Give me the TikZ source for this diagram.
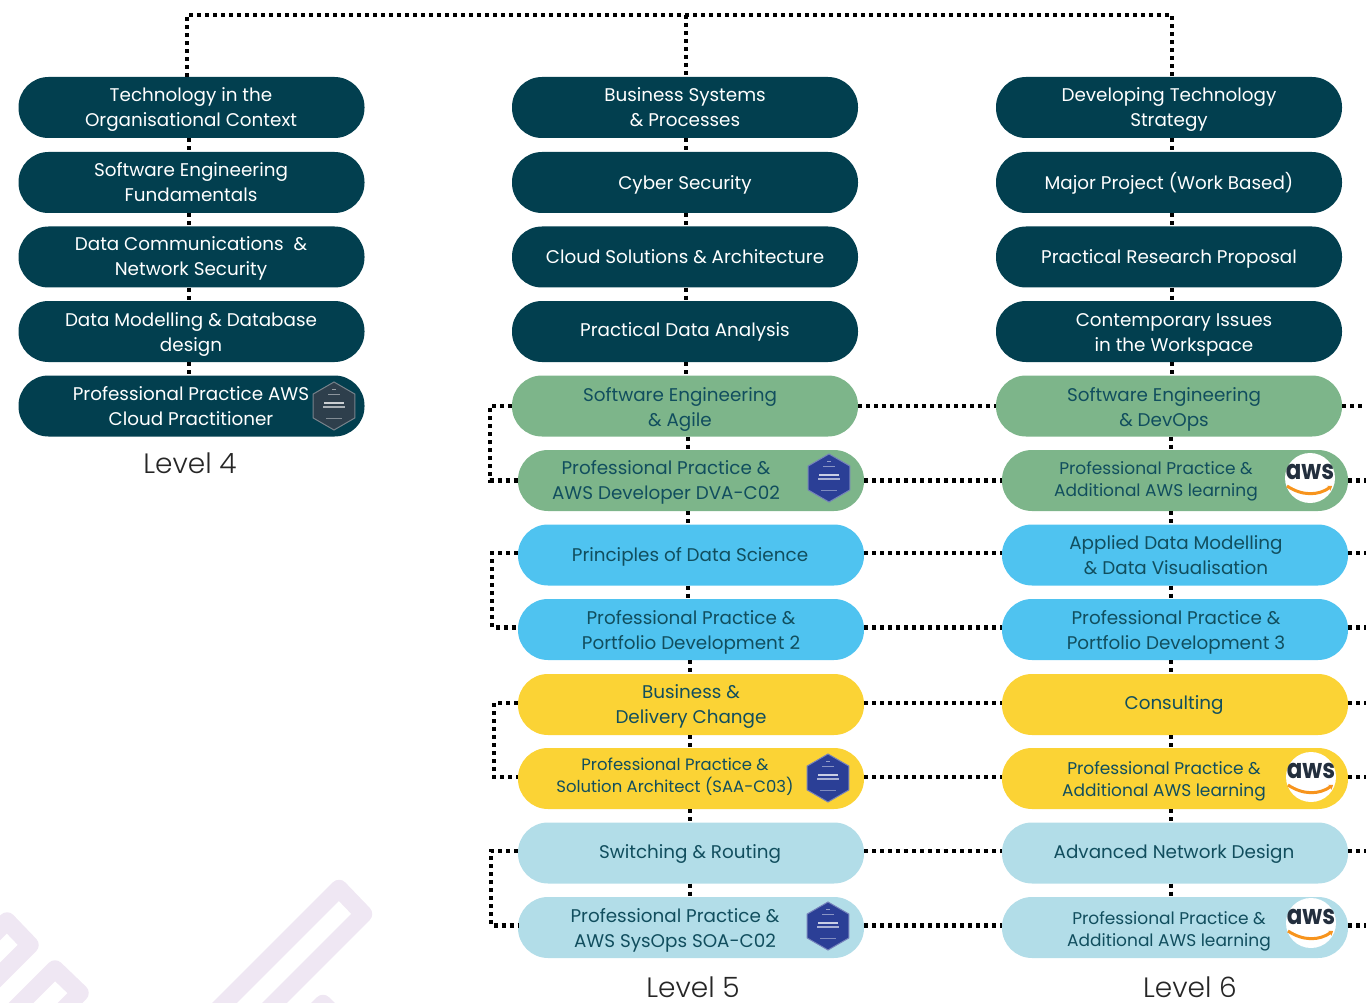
\documentclass[tikz,border=0pt]{standalone}
\usepackage{fontspec}
\setmainfont{Poppins}
\newfontfamily\lightf{Poppins Light}
\usetikzlibrary{shapes.geometric,arrows.meta}
\definecolor{deep}{HTML}{023F4F}
\definecolor{sage}{HTML}{7DB58A}
\definecolor{sky}{HTML}{4FC3F0}
\definecolor{sun}{HTML}{FBD335}
\definecolor{pale}{HTML}{B2DDE8}
\definecolor{ink}{HTML}{114E5E}
\definecolor{wm}{HTML}{EFE7F3}
\definecolor{hexblue}{HTML}{2B3F96}
\definecolor{hexgrey}{HTML}{2E3F4C}
\definecolor{awsink}{HTML}{232F3E}
\definecolor{awsor}{HTML}{F7941D}
\tikzset{
  pill/.style={rectangle,rounded corners=30pt,minimum height=61pt,minimum width=346pt,inner sep=0pt,draw=none},
  dots/.style={draw=black,line width=4.4pt,dash pattern=on 4.2pt off 3.8pt},
  lab/.style={inner sep=0pt,align=center,text=ink},
  labw/.style={lab,text=white},
  levellab/.style={inner sep=0pt,text=black!85,font=\lightf\fontsize{28}{32}\selectfont},
  badge/.style={regular polygon,regular polygon sides=6,shape border rotate=30,minimum size=48pt,inner sep=0pt},
  awscirc/.style={circle,fill=white,minimum size=50pt,inner sep=0pt},
  awstext/.style={inner sep=0pt,text=awsink,font=\fontsize{27}{27}\selectfont\bfseries},
  wmark/.style={draw=wm,line width=17.5pt,line join=round}
}
\newcommand{\fsel}[1]{\ifnum#1>18 \fontsize{18.35}{25}\else\ifnum#1>16 \fontsize{17}{22}\else\fontsize{16.45}{22}\fi\fi\selectfont}
\newcommand{\pillnode}[4]{\node[pill,fill=#2] (#1) at (#3,#4) {};}
\newcommand{\txt}[6]{\node[#5,font=\fsel{#4}] (#1) at (#2,#3) {\rule{0pt}{18pt}#6\rule[-5pt]{0pt}{5pt}};}
\newcommand{\vlink}[3]{\draw[dots] (#1.south -| #3) -- (#2.north -| #3);}
\newcommand{\hlink}[3]{\draw[dots] ([yshift=#3pt]#1.east) -- ([yshift=#3pt]#1.east -| #2.west);}
\newcommand{\loopl}[4]{\draw[dots] ([yshift=#4pt]#1.west) -- ([yshift=#4pt]#1.west -| #3) -- ([yshift=#4pt]#2.west -| #3) -- ([yshift=#4pt]#2.west);}
\newcommand{\hexbadge}[4]{%
  \node[badge,fill=#4,draw=#4!65!white,line width=1pt] (#1) at (#2,#3) {};
  \draw[white!50!#4,line width=1pt] (#2-2,#3-17) -- (#2+2,#3-17);
  \draw[white!45!#4,line width=1pt] (#2-6,#3-12) -- (#2+6,#3-12);
  \draw[white!75!#4,line width=1.8pt] (#2-10,#3-3) -- (#2+10,#3-3);
  \draw[white!60!#4,line width=1.2pt] (#2-11,#3+1) -- (#2+11,#3+1);
  \draw[white!40!#4,line width=.8pt] (#2-8,#3+12) -- (#2+8,#3+12);
}
\newcommand{\awslogo}[3]{%
  \node[awscirc] (#1) at (#2,#3) {};
  \node[awstext] (#1t) at (#2,#3-6) {\scalebox{.85}[1]{aws}};
  \draw[awsor,line width=3pt,-{Stealth[length=4pt,width=6pt]}] (#2-23,#3+8) .. controls (#2-8,#3+18) and (#2+8,#3+18) .. (#2+22,#3+8);
}
\begin{document}
\begin{tikzpicture}[x=1pt,y=-1pt]
\useasboundingbox (0,0) rectangle (1366,1003);
\begin{scope}
  \clip (0,0) rectangle (1366,1003);
  \draw[wmark] (-30,958) -- (7,921) -- (30,945) -- (-30,1005);
  \draw[wmark] (15,1009) -- (55,969) -- (80,993) -- (60,1013);
  \draw[wmark] (204,1023.5) -- (339,888.5) -- (363.5,914) -- (253,1024.5);
  \draw[wmark] (300,1026) -- (323,1003.5) -- (346,1026);
\end{scope}
% column 1
\pillnode{aa}{deep}{191.5}{107.5}
\pillnode{ab}{deep}{191.5}{182.5}
\pillnode{ac}{deep}{191.5}{257}
\pillnode{ad}{deep}{191.5}{331.5}
\pillnode{ae}{deep}{191.5}{406}
% column 2
\pillnode{ba}{deep}{685}{107.5}
\pillnode{bb}{deep}{685}{182.5}
\pillnode{bc}{deep}{685}{257}
\pillnode{bd}{deep}{685}{331.5}
\pillnode{be}{sage}{685}{406}
\pillnode{bf}{sage}{691}{480.5}
\pillnode{bg}{sky}{691}{555}
\pillnode{bh}{sky}{691}{629.5}
\pillnode{bi}{sun}{691}{704.5}
\pillnode{bj}{sun}{691}{778.5}
\pillnode{bk}{pale}{691}{853}
\pillnode{bl}{pale}{691}{927.5}
% column 3
\pillnode{ca}{deep}{1169}{107.5}
\pillnode{cb}{deep}{1169}{182.5}
\pillnode{cc}{deep}{1169}{257}
\pillnode{cd}{deep}{1169}{331.5}
\pillnode{ce}{sage}{1169}{406}
\pillnode{cf}{sage}{1175}{480.5}
\pillnode{cg}{sky}{1175}{555}
\pillnode{ch}{sky}{1175}{629.5}
\pillnode{ci}{sun}{1175}{704.5}
\pillnode{cj}{sun}{1175}{778.5}
\pillnode{ck}{pale}{1175}{853}
\pillnode{cl}{pale}{1175}{927.5}
% guide coordinates
\coordinate (tl) at (187,15);
\coordinate (tm) at (686,15);
\coordinate (tr) at (1172,15);
\coordinate (xa) at (189,0);
\coordinate (xb) at (686,0);
\coordinate (xc) at (688,0);
\coordinate (xd) at (690,0);
\coordinate (xe) at (1172,0);
\coordinate (xf) at (1171,0);
\coordinate (la) at (490,0);
\coordinate (lb) at (492,0);
\coordinate (lc) at (494,0);
\coordinate (ld) at (491,0);
\coordinate (edge) at (1366,0);
% top bar
\draw[dots] (aa.north -| tl) -- (tl) -- (tr) -- (ca.north -| tr);
\draw[dots] (tm) -- (ba.north -| tm);
% verticals
\vlink{aa}{ab}{xa}\vlink{ab}{ac}{xa}\vlink{ac}{ad}{xa}\vlink{ad}{ae}{xa}
\vlink{ba}{bb}{xb}\vlink{bb}{bc}{xb}\vlink{bc}{bd}{xb}\vlink{bd}{be}{xb}
\vlink{be}{bf}{xc}\vlink{bf}{bg}{xc}\vlink{bg}{bh}{xc}\vlink{bh}{bi}{xd}
\vlink{bi}{bj}{xd}\vlink{bj}{bk}{xd}\vlink{bk}{bl}{xd}
\vlink{ca}{cb}{xe}\vlink{cb}{cc}{xe}\vlink{cc}{cd}{xe}\vlink{cd}{ce}{xe}
\vlink{ce}{cf}{xf}\vlink{cf}{cg}{xf}\vlink{cg}{ch}{xf}\vlink{ch}{ci}{xf}
\vlink{ci}{cj}{xf}\vlink{cj}{ck}{xf}\vlink{ck}{cl}{xf}
% cross links
\hlink{be}{ce}{0}\hlink{bf}{cf}{0}\hlink{bg}{cg}{2}\hlink{bh}{ch}{2}
\hlink{bi}{ci}{1.5}\hlink{bj}{cj}{1.5}\hlink{bk}{ck}{2}\hlink{bl}{cl}{2}
% right stubs
\foreach \n/\s in {ce/0,cf/0,cg/2,ch/2,ci/1.5,cj/1.5,ck/2,cl/2}{
  \draw[dots] ([yshift=\s pt]\n.east) -- ([yshift=\s pt]\n.east -| edge);
}
% left loops
\draw[dots] (be.west) -- (be.west -| la) -- (bf.west -| la) -- (bf.west);
\loopl{bg}{bh}{lb}{2}
\loopl{bi}{bj}{lc}{1.5}
\loopl{bk}{bl}{ld}{2}
% labels column 1
\txt{taa}{191}{108}{19}{labw}{Technology in the\\Organisational Context}
\txt{tab}{191}{183}{19}{labw}{Software Engineering\\Fundamentals}
\txt{tac}{191}{257}{19}{labw}{Data Communications\ \ \&\\Network Security}
\txt{tad}{191}{332}{19}{labw}{Data Modelling \& Database\\design}
\txt{tae}{191}{406}{19}{labw}{Professional Practice AWS\\Cloud Practitioner}
% labels column 2
\txt{tba}{685}{108}{19}{labw}{Business Systems\\\& Processes}
\txt{tbb}{685}{183}{19}{labw}{Cyber Security}
\txt{tbc}{685}{257}{19}{labw}{Cloud Solutions \& Architecture}
\txt{tbd}{685}{330}{19}{labw}{Practical Data Analysis}
\txt{tbe}{680}{407}{19}{lab}{Software Engineering\\\& Agile}
\txt{tbf}{666}{480}{19}{lab}{Professional Practice \&\\AWS Developer DVA-C02}
\txt{tbg}{690}{555}{19}{lab}{Principles of Data Science}
\txt{tbh}{691}{630}{19}{lab}{Professional Practice \&\\Portfolio Development 2}
\txt{tbi}{691}{704}{19}{lab}{Business \&\\Delivery Change}
\txt{tbj}{675}{775}{16}{lab}{Professional Practice \&\\Solution Architect (SAA-C03)}
\txt{tbk}{690}{852}{19}{lab}{Switching \& Routing}
\txt{tbl}{675}{928}{19}{lab}{Professional Practice \&\\AWS SysOps SOA-C02}
% labels column 3
\txt{tca}{1169}{108}{19}{labw}{Developing Technology\\Strategy}
\txt{tcb}{1169}{183}{19}{labw}{Major Project (Work Based)}
\txt{tcc}{1169}{257}{19}{labw}{Practical Research Proposal}
\txt{tcd}{1174}{332}{19}{labw}{Contemporary Issues\\in the Workspace}
\txt{tce}{1164}{407}{19}{lab}{Software Engineering\\\& DevOps}
\txt{tcf}{1156}{479}{17}{lab}{Professional Practice \&\\Additional AWS learning}
\txt{tcg}{1176}{555}{19}{lab}{Applied Data Modelling\\\& Data Visualisation}
\txt{tch}{1176}{630}{19}{lab}{Professional Practice \&\\Portfolio Development 3}
\txt{tci}{1174}{703}{19}{lab}{Consulting}
\txt{tcj}{1164}{779}{17}{lab}{Professional Practice \&\\Additional AWS learning}
\txt{tck}{1174}{852}{19}{lab}{Advanced Network Design}
\txt{tcl}{1169}{929}{17}{lab}{Professional Practice \&\\Additional AWS learning}
% badges
\hexbadge{ha}{334}{406}{hexgrey}
\hexbadge{hb}{829}{478}{hexblue}
\hexbadge{hc}{828}{778}{hexblue}
\hexbadge{hd}{828}{926}{hexblue}
\awslogo{wa}{1310}{478}
\awslogo{wb}{1311}{777}
\awslogo{wc}{1311}{923}
% level captions
\node[levellab] (l4) at (190,463) {Level 4};
\node[levellab] (l5) at (693,987) {Level 5};
\node[levellab] (l6) at (1190,987) {Level 6};
\end{tikzpicture}
\end{document}
